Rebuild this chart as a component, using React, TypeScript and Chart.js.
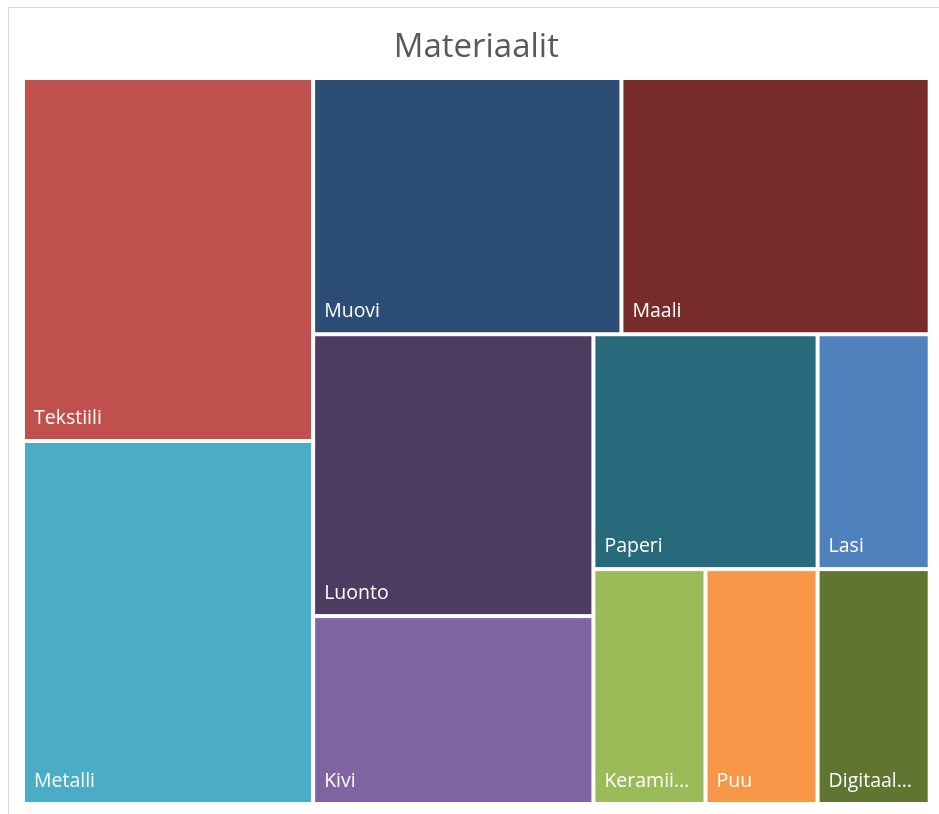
import React, { useEffect, useRef } from 'react';
import { Chart, registerables } from 'chart.js';

Chart.register(...registerables);

const chartTitle = 'Materiaalit';
const categories = ['Tekstiili', 'Metalli', 'Muovi', 'Maali', 'Luonto', 'Kivi', 'Paperi', 'Lasi', 'Keramiikka', 'Puu', 'Digitaalinen'];
const values = [4, 4, 3, 3, 3, 2, 2, 1, 1, 1, 1];
const colors = ['#C0504D', '#4BACC6', '#2C4D75', '#772C2A', '#4D3B62', '#8064A2', '#276A7C', '#4F81BD', '#9BBB59', '#F79646', '#5F7530'];

type R = { x: number; y: number; w: number; h: number };

function squarify(vals: number[], region: R, kx: number, ky: number): R[] {
  const total = vals.reduce((a, b) => a + b, 0);
  const areaScale = (region.w * kx * region.h * ky) / total;
  const order = vals.map((_, i) => i).sort((a, b) => vals[b] - vals[a]);
  const out: R[] = new Array(vals.length);
  let rect: R = { ...region };
  let idx = 0;
  const worst = (row: number[], side: number) => {
    const s = row.reduce((a, i) => a + vals[i] * areaScale, 0);
    const t = s / side;
    let w = 0;
    for (const i of row) {
      const len = (vals[i] * areaScale) / t;
      w = Math.max(w, t / len, len / t);
    }
    return w;
  };
  while (idx < order.length) {
    const pw = rect.w * kx;
    const ph = rect.h * ky;
    const remaining = order.slice(idx);
    const allEqual = remaining.length > 1 && remaining.every((i) => vals[i] === vals[remaining[0]]);
    let row: number[];
    let column: boolean;
    if (allEqual) {
      row = remaining;
      column = pw < ph;
    } else {
      column = pw >= ph;
      const side = column ? ph : pw;
      row = [order[idx]];
      let prev = worst(row, side);
      for (let j = idx + 1; j < order.length; j++) {
        const cand = [...row, order[j]];
        const w = worst(cand, side);
        if (w <= prev) {
          row = cand;
          prev = w;
        } else break;
      }
    }
    const s = row.reduce((a, i) => a + vals[i] * areaScale, 0);
    if (column) {
      const tpx = s / ph;
      const tw = tpx / kx;
      let y = rect.y;
      for (const i of row) {
        const hh = (vals[i] * areaScale) / tpx / ky;
        out[i] = { x: rect.x, y, w: tw, h: hh };
        y += hh;
      }
      rect = { x: rect.x + tw, y: rect.y, w: rect.w - tw, h: rect.h };
    } else {
      const tpx = s / pw;
      const th = tpx / ky;
      let x = rect.x;
      for (const i of row) {
        const ww = (vals[i] * areaScale) / tpx / kx;
        out[i] = { x, y: rect.y, w: ww, h: th };
        x += ww;
      }
      rect = { x: rect.x, y: rect.y + th, w: rect.w, h: rect.h - th };
    }
    idx += row.length;
  }
  return out;
}

const treemapPlugin = {
  id: 'treemapCells',
  afterDatasetsDraw(chart: any) {
    const xs = chart.scales.x;
    const ys = chart.scales.y;
    const ca = chart.chartArea;
    const kx = (ca.right - ca.left) / (xs.max - xs.min);
    const ky = (ca.bottom - ca.top) / (ys.max - ys.min);
    const tree = chart.data.datasets[0].tree;
    const rects = squarify(tree.values, { x: xs.min, y: ys.min, w: xs.max - xs.min, h: ys.max - ys.min }, kx, ky);
    const ctx = chart.ctx;
    ctx.save();
    const gap = 2;
    rects.forEach((r, i) => {
      const x0 = xs.getPixelForValue(r.x);
      const x1 = xs.getPixelForValue(r.x + r.w);
      const y0 = ys.getPixelForValue(r.y);
      const y1 = ys.getPixelForValue(r.y + r.h);
      const L = Math.min(x0, x1) + gap;
      const T = Math.min(y0, y1) + gap;
      const W = Math.abs(x1 - x0) - 2 * gap;
      const H = Math.abs(y1 - y0) - 2 * gap;
      ctx.fillStyle = tree.colors[i];
      ctx.fillRect(L, T, W, H);
      ctx.font = '19.5px "Open Sans"';
      ctx.fillStyle = '#ffffff';
      ctx.textBaseline = 'alphabetic';
      ctx.textAlign = 'left';
      let text: string = tree.labels[i];
      const maxW = W - 22;
      if (ctx.measureText(text).width > maxW) {
        let t = text;
        while (t.length > 1 && ctx.measureText(t + '…').width > maxW) t = t.slice(0, -1);
        text = t + '…';
      }
      ctx.fillText(text, L + 9, T + H - 15);
    });
    ctx.restore();
  },
};

export default function App() {
  const ref = useRef<HTMLCanvasElement | null>(null);
  useEffect(() => {
    if (!ref.current) return;
    const chart = new Chart(ref.current, {
      type: 'scatter',
      data: {
        datasets: [
          {
            label: chartTitle,
            data: [],
            pointRadius: 0,
            tree: { labels: categories, values, colors },
          } as any,
        ],
      },
      options: {
        animation: false,
        responsive: true,
        maintainAspectRatio: false,
        layout: { padding: { left: 14, right: 18.3, top: 0, bottom: 18 } },
        scales: {
          x: { type: 'linear', min: 0, max: 100, display: false },
          y: { type: 'linear', min: 0, max: 100, reverse: true, display: false },
        },
        plugins: {
          legend: { display: false },
          tooltip: { enabled: false },
          title: {
            display: true,
            text: chartTitle,
            color: '#595959',
            font: { family: '"Open Sans"', size: 33, weight: 'normal' },
            padding: { top: 20, bottom: 10.4 },
          },
        },
      },
      plugins: [treemapPlugin],
    });
    return () => chart.destroy();
  }, []);
  return (
    <div
      style={{
        position: 'fixed',
        left: 8,
        top: 7,
        width: 940,
        height: 815,
        borderTop: '1px solid #d9d9d9',
        borderLeft: '1px solid #d9d9d9',
        background: '#ffffff',
      }}
    >
      <div style={{ position: 'relative', width: 939, height: 814 }}>
        <canvas ref={ref} />
      </div>
    </div>
  );
}
